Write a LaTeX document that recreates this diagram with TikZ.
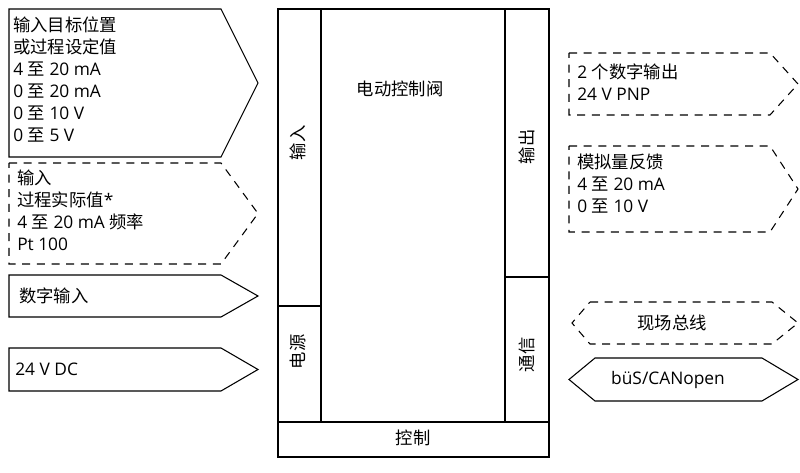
\documentclass[tikz,border=0pt]{standalone}
\usepackage{fontspec}
\setmainfont{Open Sans}
\newfontfamily\cjk{Noto Sans CJK SC}
\usepackage{tikz}
\usetikzlibrary{calc}
\tikzstyle{frame}=[line width=0.8pt, draw=black]
\tikzstyle{dashframe}=[line width=0.8pt, draw=black, dash pattern=on 6pt off 5pt]
\tikzstyle{annot}=[align=left, inner sep=0pt, font=\fontsize{13}{16.5}\selectfont]
\tikzstyle{label}=[inner sep=0pt, font=\fontsize{13}{16.5}\selectfont\cjk]
% #1 style, #2 left tip, #3 left corner, #4 right corner, #5 right tip, #6 top, #7 bottom
\newcommand{\tagbox}[7]
{
  \draw[#1] (#3,#6) -- (#4,#6) -- (#5,{(#6+#7)/2}) -- (#4,#7) -- (#3,#7) -- (#2,{(#6+#7)/2}) -- cycle;
}
\newcommand{\zh}[1]{{\cjk #1}}

\begin{document}
\begin{tikzpicture}[x=0.75pt, y=-0.75pt]
	\useasboundingbox (0,0) rectangle (800,473);

	% valve block
	\draw[frame] (278,9) rectangle (549,457);
	\draw[frame] (278,422) -- (549,422);
	\draw[frame] (321,9) -- (321,422);
	\draw[frame] (505,9) -- (505,422);
	\draw[frame] (278,306) -- (321,306);
	\draw[frame] (505,277) -- (549,277);
	\node[label] (valve) at (400,89) {电动控制阀};
	\node[label, rotate=90] (input) at (298,143) {输入};
	\node[label, rotate=90] (power) at (298,352) {电源};
	\node[label, rotate=90] (output) at (527,147) {输出};
	\node[label, rotate=90] (comm) at (527,355) {通信};
	\node[label] (control) at (413,438) {控制};

	% inputs
	\tagbox{frame}{9}{9}{221}{258}{9}{157}
	\node[annot, anchor=north west] (setpoint) at (13,17) {\zh{输入目标位置}\\\zh{或过程设定值}\\4 \zh{至} 20 mA\\0 \zh{至} 20 mA\\0 \zh{至} 10 V\\0 \zh{至} 5 V};
	\tagbox{dashframe}{9}{9}{221}{258}{163}{264}
	\node[annot, anchor=north west] (actual) at (17,170) {\zh{输入}\\\zh{过程实际值}*\\4 \zh{至} 20 mA \zh{频率}\\Pt 100};
	\tagbox{frame}{9}{9}{221}{258}{275}{317}
	\node[annot, anchor=west] (digin) at (19,296) {\zh{数字输入}};
	\tagbox{frame}{9}{9}{221}{258}{348}{391}
	\node[annot, anchor=west] (supply) at (15,369) {24 V DC};

	% outputs
	\tagbox{dashframe}{569}{569}{770}{798}{53}{115}
	\node[annot, anchor=north west] (digout) at (577,64) {2 \zh{个数字输出}\\24 V PNP};
	\tagbox{dashframe}{569}{569}{770}{798}{146}{232}
	\node[annot, anchor=north west] (feedback) at (577,154) {\zh{模拟量反馈}\\4 \zh{至} 20 mA\\0 \zh{至} 10 V};
	\tagbox{dashframe}{572}{590}{772}{798}{302}{344}
	\node[label] (fieldbus) at (672,323) {现场总线};
	\tagbox{frame}{569}{595}{762}{798}{358}{401}
	\node[annot] (bus) at (668,380) {büS/CANopen};

\end{tikzpicture}
\end{document}
